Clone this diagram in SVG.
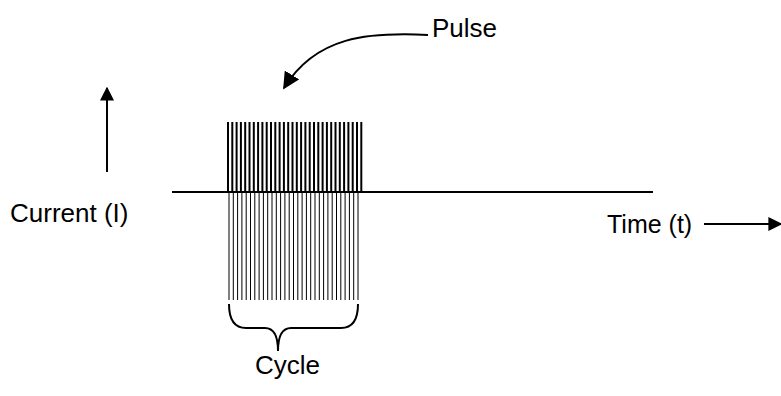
<svg xmlns="http://www.w3.org/2000/svg" width="781" height="396" viewBox="0 0 781 396">
<style>
text{font-family:"Liberation Sans",Arial,sans-serif;font-size:26px;fill:#000}
.ln{stroke:#000;fill:none;stroke-width:2}
.top line{stroke:#000;stroke-width:2}
.bot line{stroke:#000;stroke-width:1}
</style>
<defs>
<marker id="ah2" viewBox="0 0 10 10" refX="9" refY="5" markerWidth="14" markerHeight="14" markerUnits="userSpaceOnUse" orient="auto"><path d="M0,0 L10,5 L0,10 z" fill="#000"/></marker>
<marker id="ah3" viewBox="0 0 10 10" refX="9" refY="5" markerWidth="17" markerHeight="17" markerUnits="userSpaceOnUse" orient="auto"><path d="M0,0 L10,5 L0,10 z" fill="#000"/></marker>
</defs>
<rect width="781" height="396" fill="#fff"/>
<g id="pulses">
<g class="top">
<line x1="228" y1="122" x2="228" y2="192"/><line x1="232.3" y1="122" x2="232.3" y2="192"/><line x1="236.6" y1="122" x2="236.6" y2="192"/><line x1="240.9" y1="122" x2="240.9" y2="192"/><line x1="245.2" y1="122" x2="245.2" y2="192"/><line x1="249.5" y1="122" x2="249.5" y2="192"/><line x1="253.8" y1="122" x2="253.8" y2="192"/><line x1="258.1" y1="122" x2="258.1" y2="192"/><line x1="262.4" y1="122" x2="262.4" y2="192"/><line x1="266.7" y1="122" x2="266.7" y2="192"/><line x1="271" y1="122" x2="271" y2="192"/><line x1="275.3" y1="122" x2="275.3" y2="192"/><line x1="279.6" y1="122" x2="279.6" y2="192"/><line x1="283.9" y1="122" x2="283.9" y2="192"/><line x1="288.2" y1="122" x2="288.2" y2="192"/><line x1="292.5" y1="122" x2="292.5" y2="192"/><line x1="296.8" y1="122" x2="296.8" y2="192"/><line x1="301.1" y1="122" x2="301.1" y2="192"/><line x1="305.4" y1="122" x2="305.4" y2="192"/><line x1="309.7" y1="122" x2="309.7" y2="192"/><line x1="314" y1="122" x2="314" y2="192"/><line x1="318.3" y1="122" x2="318.3" y2="192"/><line x1="322.6" y1="122" x2="322.6" y2="192"/><line x1="326.9" y1="122" x2="326.9" y2="192"/><line x1="331.2" y1="122" x2="331.2" y2="192"/><line x1="335.5" y1="122" x2="335.5" y2="192"/><line x1="339.8" y1="122" x2="339.8" y2="192"/><line x1="344.1" y1="122" x2="344.1" y2="192"/><line x1="348.4" y1="122" x2="348.4" y2="192"/><line x1="352.7" y1="122" x2="352.7" y2="192"/><line x1="357" y1="122" x2="357" y2="192"/><line x1="361.3" y1="122" x2="361.3" y2="192"/>
</g>
<g class="bot">
<line x1="229" y1="192" x2="229" y2="300"/><line x1="233.3" y1="192" x2="233.3" y2="300"/><line x1="237.6" y1="192" x2="237.6" y2="300"/><line x1="241.9" y1="192" x2="241.9" y2="300"/><line x1="246.2" y1="192" x2="246.2" y2="300"/><line x1="250.5" y1="192" x2="250.5" y2="300"/><line x1="254.8" y1="192" x2="254.8" y2="300"/><line x1="259.1" y1="192" x2="259.1" y2="300"/><line x1="263.4" y1="192" x2="263.4" y2="300"/><line x1="267.7" y1="192" x2="267.7" y2="300"/><line x1="272" y1="192" x2="272" y2="300"/><line x1="276.3" y1="192" x2="276.3" y2="300"/><line x1="280.6" y1="192" x2="280.6" y2="300"/><line x1="284.9" y1="192" x2="284.9" y2="300"/><line x1="289.2" y1="192" x2="289.2" y2="300"/><line x1="293.5" y1="192" x2="293.5" y2="300"/><line x1="297.8" y1="192" x2="297.8" y2="300"/><line x1="302.1" y1="192" x2="302.1" y2="300"/><line x1="306.4" y1="192" x2="306.4" y2="300"/><line x1="310.7" y1="192" x2="310.7" y2="300"/><line x1="315" y1="192" x2="315" y2="300"/><line x1="319.3" y1="192" x2="319.3" y2="300"/><line x1="323.6" y1="192" x2="323.6" y2="300"/><line x1="327.9" y1="192" x2="327.9" y2="300"/><line x1="332.2" y1="192" x2="332.2" y2="300"/><line x1="336.5" y1="192" x2="336.5" y2="300"/><line x1="340.8" y1="192" x2="340.8" y2="300"/><line x1="345.1" y1="192" x2="345.1" y2="300"/><line x1="349.4" y1="192" x2="349.4" y2="300"/><line x1="353.7" y1="192" x2="353.7" y2="300"/><line x1="358" y1="192" x2="358" y2="300"/>
</g>
</g>
<g id="axis"><line class="ln" x1="172" y1="192" x2="653" y2="192"/></g>
<g id="brace"><path class="ln" d="M229,304 Q229,328 246,328 L265,328 Q278,328 278,351 Q278,328 291,328 L341,328 Q358,328 358,304"/></g>
<g id="connectors">
<path class="ln" d="M428,35 C368,32 316,36 284,88" marker-end="url(#ah3)"/>
<line class="ln" x1="107" y1="172" x2="107" y2="88" marker-end="url(#ah2)"/>
<line class="ln" x1="704" y1="224" x2="781" y2="224" marker-end="url(#ah2)"/>
</g>
<g id="labels">
<text x="432" y="37">Pulse</text>
<text x="10" y="222">Current (I)</text>
<text x="607" y="233" style="font-size:25px">Time (t)</text>
<text x="255" y="374">Cycle</text>
</g>
</svg>
